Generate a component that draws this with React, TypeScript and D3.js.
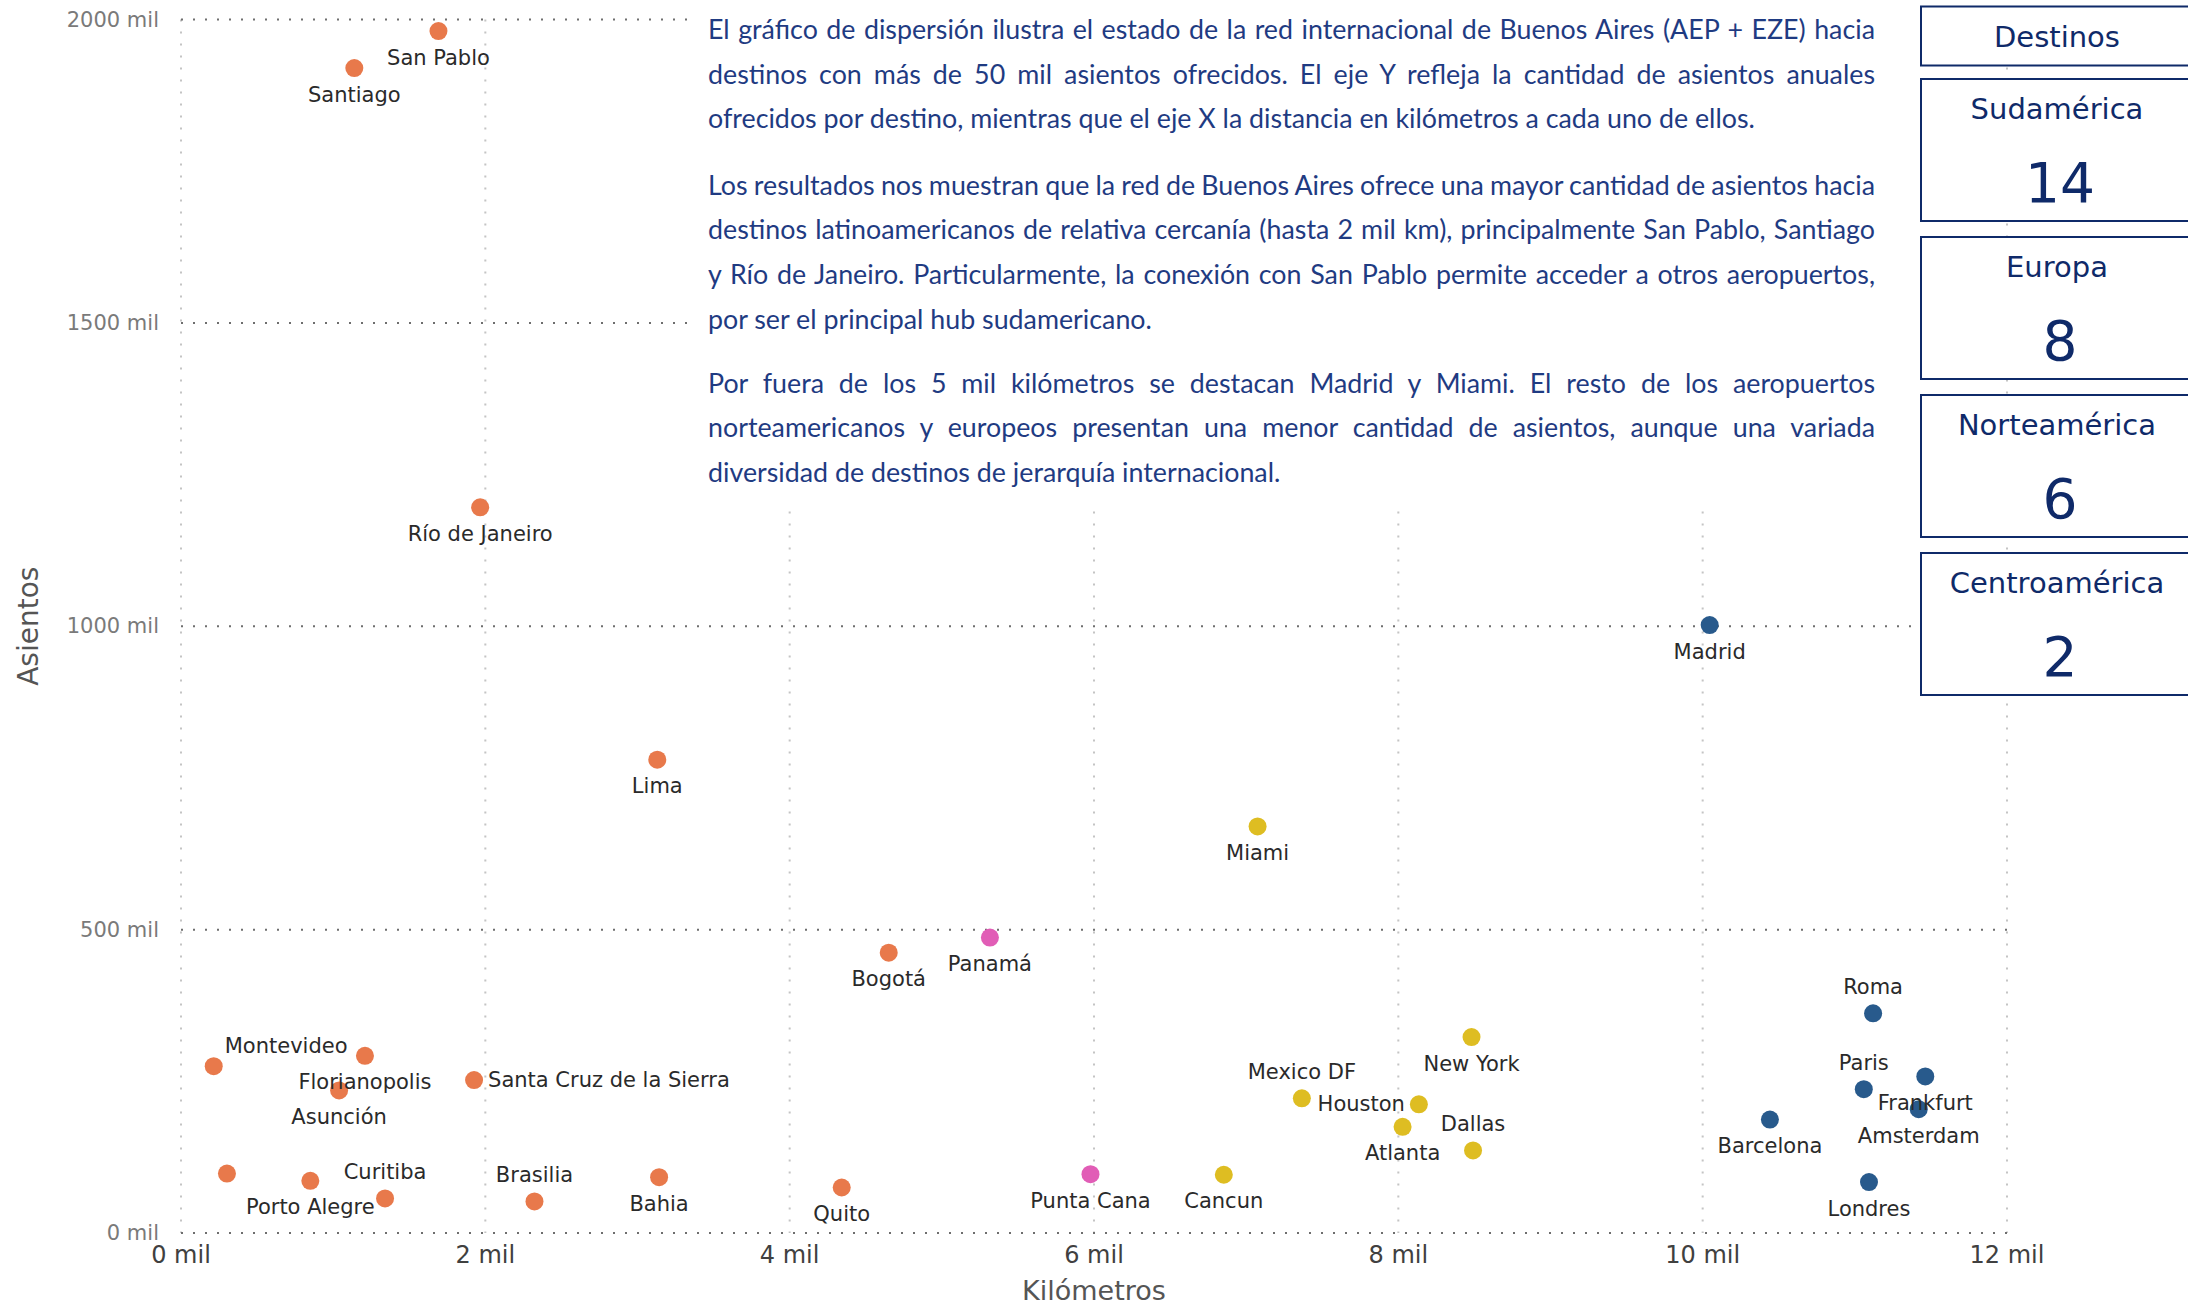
import React from "react";
import * as d3 from "d3";

const destinos = [
  "San Pablo", "Santiago", "Río de Janeiro", "Lima", "Bogotá", "Quito",
  "Montevideo", "Florianopolis", "Asunción", "Santa Cruz de la Sierra", "",
  "Porto Alegre", "Curitiba", "Brasilia", "Bahia",
  "Panamá", "Punta Cana",
  "Cancun", "Miami", "Mexico DF", "Houston", "Atlanta", "New York", "Dallas",
  "Madrid", "Roma", "Paris", "Frankfurt", "Amsterdam", "Barcelona", "Londres",
];
const regiones = [
  "Sudamérica", "Sudamérica", "Sudamérica", "Sudamérica", "Sudamérica", "Sudamérica",
  "Sudamérica", "Sudamérica", "Sudamérica", "Sudamérica", "Sudamérica",
  "Sudamérica", "Sudamérica", "Sudamérica", "Sudamérica",
  "Centroamérica", "Centroamérica",
  "Norteamérica", "Norteamérica", "Norteamérica", "Norteamérica", "Norteamérica", "Norteamérica", "Norteamérica",
  "Europa", "Europa", "Europa", "Europa", "Europa", "Europa", "Europa",
];
const kilometros = [
  1692, 1139, 1966, 3130, 4651, 4342,
  215, 1209, 1039, 1926, 302,
  850, 1341, 2323, 3142,
  5316, 5977,
  6853, 7075, 7366, 8135, 8028, 8481, 8491,
  10046, 11120, 11059, 11463, 11420, 10442, 11093,
];
const asientosMil = [
  1981, 1920, 1196, 780, 462, 75,
  275, 292, 235, 252, 98,
  86, 57, 52, 92,
  487, 97,
  96, 670, 222, 212, 175, 323, 136,
  1002, 362, 237, 258, 204, 187, 84,
];

const xTicks = [0, 2000, 4000, 6000, 8000, 10000, 12000];
const yTicks = [0, 500, 1000, 1500, 2000];

const cardTitles = ["Sudamérica", "Europa", "Norteamérica", "Centroamérica"];
const cardValues = [14, 8, 6, 2];

const regionColors: Record<string, string> = {
  "Sudamérica": "#E8794B",
  "Centroamérica": "#E15DB6",
  "Norteamérica": "#DEBD22",
  "Europa": "#285A8C",
};

const labelPlacement: Record<string, string> = {
  "Montevideo": "aboveRight",
  "Santa Cruz de la Sierra": "right",
  "Curitiba": "above",
  "Brasilia": "above",
  "Mexico DF": "above",
  "Houston": "left",
  "Dallas": "above",
  "Roma": "above",
  "Paris": "above",
};

const paragraphs = [
  [
    "El gráfico de dispersión ilustra el estado de la red internacional de Buenos Aires (AEP + EZE) hacia",
    "destinos con más de 50 mil asientos ofrecidos. El eje Y refleja la cantidad de asientos anuales",
    "ofrecidos por destino, mientras que el eje X la distancia en kilómetros a cada uno de ellos.",
  ],
  [
    "Los resultados nos muestran que la red de Buenos Aires ofrece una mayor cantidad de asientos hacia",
    "destinos latinoamericanos de relativa cercanía (hasta 2 mil km), principalmente San Pablo, Santiago",
    "y Río de Janeiro. Particularmente, la conexión con San Pablo permite acceder a otros aeropuertos,",
    "por ser el principal hub sudamericano.",
  ],
  [
    "Por fuera de los 5 mil kilómetros se destacan Madrid y Miami. El resto de los aeropuertos",
    "norteamericanos y europeos presentan una menor cantidad de asientos, aunque una variada",
    "diversidad de destinos de jerarquía internacional.",
  ],
];

const W = 2188;
const H = 1308;
const PLOT = { left: 181, right: 2007, top: 19.5, bottom: 1233 };

export default function App() {
  const x = d3.scaleLinear().domain([0, 12000]).range([PLOT.left, PLOT.right]);
  const y = d3.scaleLinear().domain([0, 2000]).range([PLOT.bottom, PLOT.top]);
  const fmt = (v: number) => `${d3.format("d")(v / 1000)} mil`;
  const fmtY = (v: number) => `${v} mil`;

  const points = destinos.map((name, i) => ({
    name,
    region: regiones[i],
    cx: x(kilometros[i]),
    cy: y(asientosMil[i]),
  }));

  const labelFont = "'DejaVu Sans', sans-serif";
  const paraTops = [7, 162.5, 360.5];
  const lineH = 44.7;
  const cardX = 1921;
  const cardW = 276;

  return (
    <svg
      width={W}
      height={H}
      style={{ position: "absolute", left: 0, top: 0, background: "#fff" }}
    >
      <rect x={0} y={0} width={W} height={H} fill="#fff" />
      {xTicks.map((t) => (
        <line
          key={"vx" + t}
          x1={x(t)}
          x2={x(t)}
          y1={y(2000)}
          y2={y(0)}
          stroke="#c4c4c4"
          strokeWidth={2}
          strokeDasharray="2 10"
        />
      ))}
      {yTicks.map((t) => (
        <line
          key={"hy" + t}
          x1={x(0)}
          x2={x(12000)}
          y1={y(t)}
          y2={y(t)}
          stroke="#6e6e6e"
          strokeWidth={2}
          strokeDasharray="2 10"
        />
      ))}
      {yTicks.map((t) => (
        <text
          key={"yl" + t}
          x={159}
          y={y(t)}
          textAnchor="end"
          dominantBaseline="central"
          fontFamily={labelFont}
          fontSize={21}
          fill="#7a7a7a"
        >
          {fmtY(t)}
        </text>
      ))}
      {xTicks.map((t) => (
        <text
          key={"xl" + t}
          x={x(t)}
          y={1255}
          textAnchor="middle"
          dominantBaseline="central"
          fontFamily={labelFont}
          fontSize={24}
          fill="#404040"
        >
          {fmt(t)}
        </text>
      ))}
      <text
        x={(PLOT.left + PLOT.right) / 2}
        y={1290}
        textAnchor="middle"
        dominantBaseline="central"
        fontFamily={labelFont}
        fontSize={27}
        fill="#555"
      >
        Kilómetros
      </text>
      <text
        transform={`translate(28,${(PLOT.top + PLOT.bottom) / 2}) rotate(-90)`}
        textAnchor="middle"
        dominantBaseline="central"
        fontFamily={labelFont}
        fontSize={28}
        fill="#555"
      >
        Asientos
      </text>
      {points.map((p, i) => (
        <circle key={"pt" + i} cx={p.cx} cy={p.cy} r={9} fill={regionColors[p.region]} />
      ))}
      {points.map((p, i) => {
        if (!p.name) return null;
        const pl = labelPlacement[p.name] || "below";
        let lx = p.cx;
        let ly = p.cy + 26.5;
        let anchor: "middle" | "start" | "end" = "middle";
        if (pl === "above") ly = p.cy - 26;
        if (pl === "right") {
          lx = p.cx + 14;
          ly = p.cy;
          anchor = "start";
        }
        if (pl === "left") {
          lx = p.cx - 14;
          ly = p.cy;
          anchor = "end";
        }
        if (pl === "aboveRight") {
          lx = p.cx + 11;
          ly = p.cy - 20;
          anchor = "start";
        }
        return (
          <text
            key={"lb" + i}
            x={lx}
            y={ly}
            textAnchor={anchor}
            dominantBaseline="central"
            fontFamily={labelFont}
            fontSize={21}
            fill="#2a2a2a"
          >
            {p.name}
          </text>
        );
      })}
      <rect x={688} y={0} width={1233} height={505} fill="#fff" />
      <foreignObject x={708} y={0} width={1167} height={505}>
        <div
          style={{
            position: "relative",
            width: 1167,
            height: 505,
            fontFamily: "Lato, 'Open Sans', sans-serif",
            fontSize: 26.8,
            color: "#1F3B82",
          }}
        >
          {paragraphs.map((lines, pi) =>
            lines.map((ln, li) => {
              const last = li === lines.length - 1;
              return (
                <div
                  key={pi + "-" + li}
                  style={{
                    position: "absolute",
                    left: 0,
                    top: paraTops[pi] + li * lineH,
                    width: 1167,
                    height: lineH,
                    lineHeight: lineH + "px",
                    textAlign: last ? "left" : "justify",
                    textAlignLast: last ? "left" : "justify",
                    wordSpacing: last ? "normal" : "-3px",
                    whiteSpace: "nowrap",
                  }}
                >
                  {ln}
                </div>
              );
            })
          )}
        </div>
      </foreignObject>
      <rect x={cardX} y={6.5} width={cardW} height={59} fill="#fff" stroke="#0F2A69" strokeWidth={2} />
      <text
        x={cardX + 136}
        y={37}
        textAnchor="middle"
        dominantBaseline="central"
        fontFamily={labelFont}
        fontSize={29}
        fill="#0F2A69"
      >
        Destinos
      </text>
      {cardTitles.map((t, i) => {
        const top = 79 + i * 158;
        return (
          <g key={"card" + i}>
            <rect x={cardX} y={top} width={cardW} height={142} fill="#fff" stroke="#0F2A69" strokeWidth={2} />
            <text
              x={cardX + 136}
              y={top + 30}
              textAnchor="middle"
              dominantBaseline="central"
              fontFamily={labelFont}
              fontSize={29}
              fill="#0F2A69"
            >
              {t}
            </text>
            <text
              x={cardX + 139}
              y={top + 104}
              textAnchor="middle"
              dominantBaseline="central"
              fontFamily={labelFont}
              fontSize={55}
              fill="#0F2A69"
            >
              {cardValues[i]}
            </text>
          </g>
        );
      })}
    </svg>
  );
}
